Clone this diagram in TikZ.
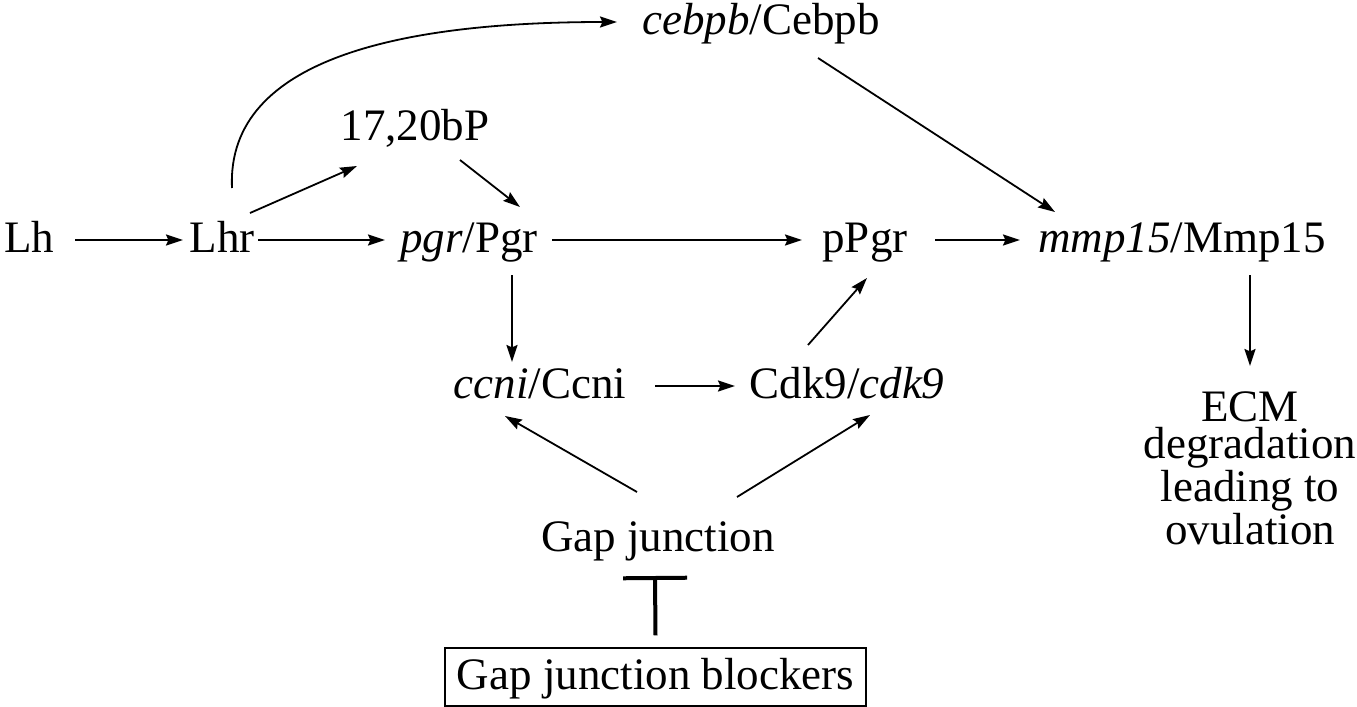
\documentclass[tikz,border=0pt]{standalone}
\usepackage{fontspec}
\setmainfont{Liberation Serif}
\usetikzlibrary{arrows.meta}
\begin{document}
\begin{tikzpicture}[x=0.5pt,y=-0.5pt,
  lbl/.style={inner sep=0pt, text height=16pt, text depth=4pt,
    font=\fontsize{22.5pt}{19pt}\selectfont},
  arr/.style={line width=0.9pt, -{Stealth[length=8.5pt,width=5.5pt,inset=1.2pt]}},
  inhib/.style={line width=2pt, -{Bar[width=32pt,line width=2pt]}},
  boxed/.style={lbl, draw, line width=0.7pt, minimum width=210.5pt, minimum height=29pt}]
\useasboundingbox (0,0) rectangle (1357,707);

% pathway members
\node[lbl] (lh)   at (29,240)   {Lh};
\node[lbl] (lhr)  at (222,240)  {Lhr};
\node[lbl] (pgr)  at (469,240)  {\textit{pgr}/Pgr};
\node[lbl] (tw)   at (415,128)  {17,20bP};
\node[lbl] (ceb)  at (761,22)   {\textit{cebpb}/Cebpb};
\node[lbl] (ppgr) at (865,240)  {pPgr};
\node[lbl] (mmp)  at (1182,240) {\textit{mmp15}/Mmp15};
\node[lbl] (ccni) at (540,386)  {\textit{ccni}/Ccni};
\node[lbl] (cdk)  at (847,386)  {Cdk9/\textit{cdk9}};
\node[lbl] (gap)  at (658,539)  {Gap junction};
\node[boxed] (blk) at (655.5,677) {Gap junction blockers};
\node[inner sep=0pt, anchor=north, align=center,
      font=\fontsize{22.5pt}{18.8pt}\selectfont] (ecm) at (1250,391)
      {ECM\\degradation\\leading to\\ovulation};

% activating links
\draw[arr] ([shift={(46,0)}]lh.center) -- ([shift={(-39,0)}]lhr.center);
\draw[arr] ([shift={(36,0)}]lhr.center) -- ([shift={(-84,0)}]pgr.center);
\draw[arr] ([shift={(28,-27)}]lhr.center) -- ([shift={(-58,38)}]tw.center);
\draw[arr] ([shift={(45,32)}]tw.center) -- ([shift={(51,-33)}]pgr.center);
\draw[arr] ([shift={(10,-52)}]lhr.center)
  .. controls ([shift={(4,-185)}]lhr.center) and ([shift={(-350,0)}]ceb.center)
  .. ([shift={(-144,0)}]ceb.center);
\draw[arr] ([shift={(83,0)}]pgr.center) -- ([shift={(-63,0)}]ppgr.center);
\draw[arr] ([shift={(70,0)}]ppgr.center) -- ([shift={(-162,0)}]mmp.center);
\draw[arr] ([shift={(57,36)}]ceb.center) -- ([shift={(-127,-28)}]mmp.center);
\draw[arr] ([shift={(43,35)}]pgr.center) -- ([shift={(-28,-24)}]ccni.center);
\draw[arr] ([shift={(115,0)}]ccni.center) -- ([shift={(-112,0)}]cdk.center);
\draw[arr] ([shift={(-39,-41)}]cdk.center) -- ([shift={(2,38)}]ppgr.center);
\draw[arr] ([shift={(-21,-47)}]gap.center) -- ([shift={(-35,30)}]ccni.center);
\draw[arr] ([shift={(79,-42)}]gap.center) -- ([shift={(23,29)}]cdk.center);
\draw[arr] ([shift={(68,35)}]mmp.center) -- ([shift={(0,-25)}]ecm.north);

% blocking link
\draw[inhib] ([shift={(0,-12)}]blk.north) -- ([shift={(-3,37)}]gap.center);
\end{tikzpicture}
\end{document}
